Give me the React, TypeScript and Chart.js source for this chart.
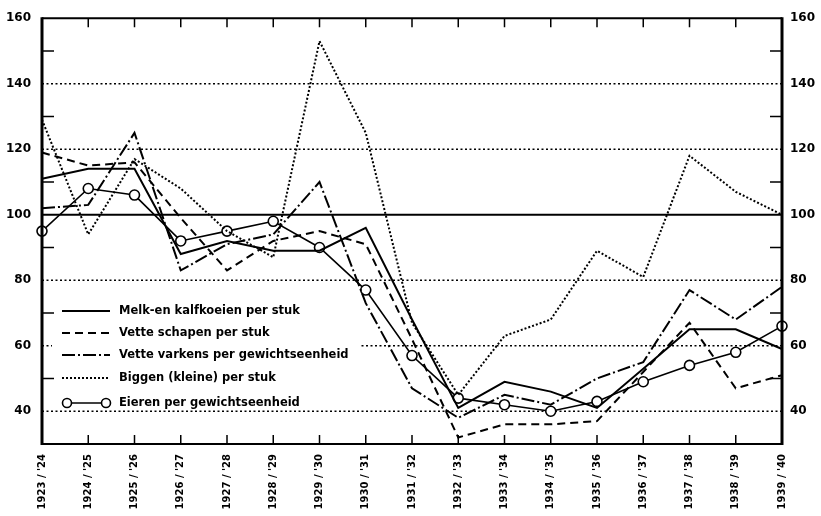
import React, { useEffect, useRef } from "react";
import { Chart, registerables } from "chart.js";

Chart.register(...registerables);

const categories = [
  "1923 / '24", "1924 / '25", "1925 / '26", "1926 / '27", "1927 / '28", "1928 / '29",
  "1929 / '30", "1930 / '31", "1931 / '32", "1932 / '33", "1933 / '34", "1934 / '35",
  "1935 / '36", "1936 / '37", "1937 / '38", "1938 / '39", "1939 / '40",
];
const melk = [111, 114, 114, 88, 92, 89, 89, 96, 68, 41, 49, 46, 41, 53, 65, 65, 59];
const schapen = [119, 115, 116, 99, 83, 92, 95, 91, 62, 32, 36, 36, 37, 52, 67, 47, 51];
const varkens = [102, 103, 125, 83, 91, 94, 110, 73, 47, 38, 45, 42, 50, 55, 77, 68, 78];
const biggen = [129, 94, 117, 108, 95, 87, 153, 125, 67, 45, 63, 68, 89, 81, 118, 107, 100];
const eieren = [95, 108, 106, 92, 95, 98, 90, 77, 57, 44, 42, 40, 43, 49, 54, 58, 66];

const seriesNames = [
  "Melk-en kalfkoeien per stuk",
  "Vette schapen per stuk",
  "Vette varkens per gewichtseenheid",
  "Biggen (kleine) per stuk",
  "Eieren per gewichtseenheid",
];
const dottedGrid = [40, 60, 80, 120, 140];
const minorTicks = [50, 70, 90, 110, 130, 150];
const yMin = 30;
const yMax = 160;

const FONT = '"DejaVu Sans", "Open Sans", sans-serif';
const dashes = [[], [8, 5], [13, 3, 2, 3], [2, 2], []];

const framePlugin = {
  id: "frame",
  beforeDatasetsDraw(chart: any) {
    const { ctx, chartArea: a, scales } = chart;
    const y = scales.y;
    ctx.save();
    ctx.strokeStyle = "#000";
    ctx.lineWidth = 1.6;
    ctx.setLineDash([2, 2.5]);
    dottedGrid.forEach((v) => {
      const py = y.getPixelForValue(v);
      ctx.beginPath();
      ctx.moveTo(a.left, py);
      ctx.lineTo(a.right, py);
      ctx.stroke();
    });
    ctx.setLineDash([]);
    ctx.lineWidth = 2;
    const p100 = y.getPixelForValue(100);
    ctx.beginPath();
    ctx.moveTo(a.left, p100);
    ctx.lineTo(a.right, p100);
    ctx.stroke();
    // legend backdrop
    ctx.fillStyle = "#fff";
    ctx.fillRect(52, 298, 308, 96);
    ctx.restore();
  },
  afterDraw(chart: any) {
    const { ctx, chartArea: a, scales } = chart;
    const y = scales.y;
    const x = scales.x;
    ctx.save();
    ctx.strokeStyle = "#000";
    ctx.setLineDash([]);
    // frame
    ctx.lineWidth = 2;
    ctx.beginPath();
    ctx.moveTo(a.left, a.top);
    ctx.lineTo(a.right, a.top);
    ctx.moveTo(a.left, a.bottom);
    ctx.lineTo(a.right, a.bottom);
    ctx.stroke();
    ctx.lineWidth = 3;
    ctx.beginPath();
    ctx.moveTo(a.left, a.top - 1);
    ctx.lineTo(a.left, a.bottom + 1);
    ctx.moveTo(a.right, a.top - 1);
    ctx.lineTo(a.right, a.bottom + 1);
    ctx.stroke();
    // minor ticks
    ctx.lineWidth = 1.5;
    ctx.beginPath();
    minorTicks.forEach((v) => {
      const py = y.getPixelForValue(v);
      ctx.moveTo(a.left, py);
      ctx.lineTo(a.left + 12, py);
      ctx.moveTo(a.right, py);
      ctx.lineTo(a.right - 12, py);
    });
    categories.forEach((_, i) => {
      if (i === 0 || i === categories.length - 1) return;
      const px = x.getPixelForValue(i);
      ctx.moveTo(px, a.top);
      ctx.lineTo(px, a.top + 9);
      ctx.moveTo(px, a.bottom);
      ctx.lineTo(px, a.bottom - 9);
    });
    ctx.stroke();
    // legend
    const rows = [311, 333, 355, 378, 403];
    ctx.font = `bold 11.5px ${FONT}`;
    ctx.fillStyle = "#000";
    ctx.textBaseline = "middle";
    rows.forEach((ry, i) => {
      ctx.setLineDash(dashes[i]);
      ctx.lineWidth = i === 4 ? 1.6 : 2;
      ctx.beginPath();
      ctx.moveTo(62, ry);
      ctx.lineTo(110, ry);
      ctx.stroke();
      ctx.setLineDash([]);
      if (i === 4) {
        [67, 106].forEach((cx) => {
          ctx.beginPath();
          ctx.arc(cx, ry, 4.5, 0, Math.PI * 2);
          ctx.fillStyle = "#fff";
          ctx.fill();
          ctx.lineWidth = 1.6;
          ctx.stroke();
        });
        ctx.fillStyle = "#000";
      }
      ctx.fillText(seriesNames[i], 119, ry);
    });
    ctx.restore();
  },
};

export default function App() {
  const ref = useRef<HTMLCanvasElement | null>(null);
  useEffect(() => {
    if (!ref.current) return;
    const values = [melk, schapen, varkens, biggen, eieren];
    const tickFont = { family: FONT, weight: "bold" as const, size: 12 };
    const yCommon = {
      min: yMin,
      max: yMax,
      grid: { display: false, drawTicks: false },
      border: { display: false },
      ticks: {
        stepSize: 10,
        color: "#000",
        font: tickFont,
        callback: (v: any) => (Number(v) % 20 === 0 && Number(v) >= 40 ? String(v) : ""),
      },
    };
    const chart = new Chart(ref.current, {
      type: "line",
      data: {
        labels: categories,
        datasets: values.map((d, i) => ({
          label: seriesNames[i],
          data: d,
          borderColor: "#000",
          borderWidth: i === 4 ? 1.6 : 2,
          borderDash: dashes[i],
          tension: 0,
          fill: false,
          pointRadius: i === 4 ? 5 : 0,
          pointBackgroundColor: "#fff",
          pointBorderColor: "#000",
          pointBorderWidth: 1.6,
          clip: false as any,
        })),
      },
      options: {
        responsive: false,
        animation: false,
        layout: { padding: { top: 15, left: 0, right: 0, bottom: 0 } },
        plugins: { legend: { display: false }, tooltip: { enabled: false } },
        scales: {
          x: {
            type: "category",
            offset: false,
            grid: { display: false, drawTicks: false },
            border: { display: false },
            ticks: {
              autoSkip: false,
              maxRotation: 90,
              minRotation: 90,
              padding: 10,
              color: "#000",
              font: { family: FONT, weight: "bold", size: 10 },
            },
            afterFit: (s: any) => {
              s.height = 72;
            },
          },
          y: {
            ...yCommon,
            position: "left",
            ticks: { ...yCommon.ticks, padding: 11 },
            afterFit: (s: any) => {
              s.width = 42;
            },
          },
          y2: {
            ...yCommon,
            position: "right",
            ticks: { ...yCommon.ticks, padding: 8 },
            afterFit: (s: any) => {
              s.width = 39;
            },
          },
        } as any,
      },
      plugins: [framePlugin],
    });
    return () => chart.destroy();
  }, []);
  return (
    <div style={{ position: "fixed", left: 0, top: 0, width: 821, height: 516, background: "#fff" }}>
      <canvas ref={ref} width={821} height={516} />
    </div>
  );
}
